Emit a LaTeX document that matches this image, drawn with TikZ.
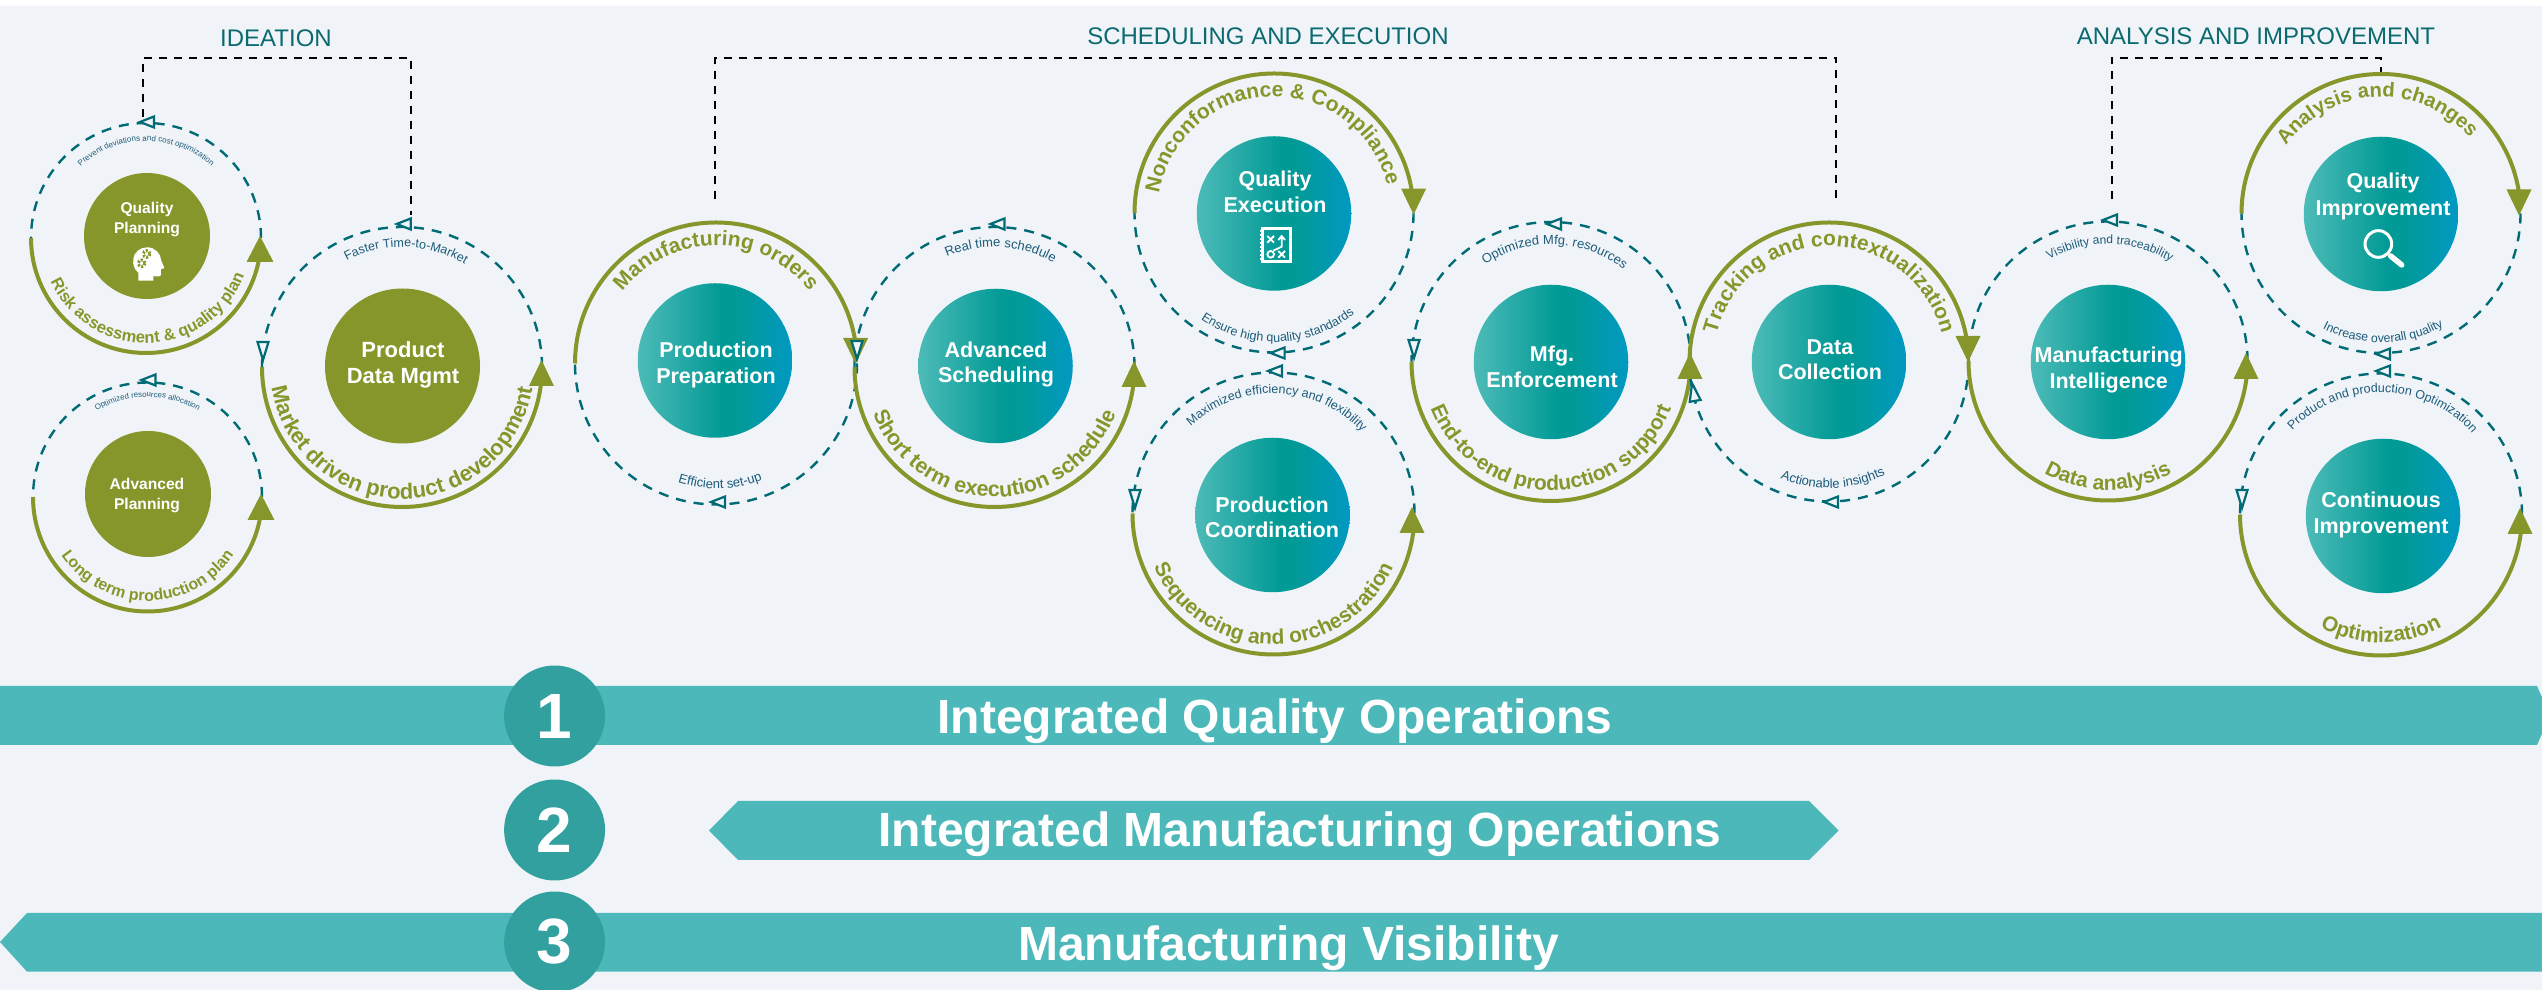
\documentclass[tikz,border=0pt]{standalone}
\usepackage{fontspec}
\setmainfont{Liberation Sans}
\usetikzlibrary{decorations.text}
\definecolor{bgC}{HTML}{F0F4F8}
\definecolor{oliveC}{HTML}{87962B}
\definecolor{dashC}{HTML}{006A75}
\definecolor{smallC}{HTML}{1C5B7A}
\definecolor{headC}{HTML}{0B6A70}
\definecolor{barC}{HTML}{4DB8BA}
\definecolor{numC}{HTML}{33A0A0}
\definecolor{gA}{HTML}{4DBBB8}
\definecolor{gB}{HTML}{029A96}
\definecolor{gC}{HTML}{0099C2}
\pgfdeclarehorizontalshading{tealgrad}{100bp}{color(0bp)=(gA); color(25bp)=(gA); color(52bp)=(gB); color(57bp)=(gB); color(75bp)=(gC); color(100bp)=(gC)}
\tikzset{
  x=1pt,y=1pt,
  solidarc/.style={draw=oliveC,line width=4pt},
  dasharc/.style={draw=dashC,line width=2.4pt,dash pattern=on 10pt off 8pt},
  conn/.style={draw=black,line width=2pt,dash pattern=on 8pt off 7pt},
  tealdisc/.style={circle,inner sep=0pt,minimum size=154.5pt,shading=tealgrad},
  olivedisc/.style={circle,inner sep=0pt,fill=oliveC},
  numdisc/.style={circle,inner sep=0pt,minimum size=101pt,fill=numC,text=white,font=\bfseries\fontsize{64}{64}\selectfont},
  bigtxt/.style={text=white,align=center,font=\bfseries\fontsize{21.5}{25.5}\selectfont},
  smalltxt/.style={text=white,align=center,font=\bfseries\fontsize{15.6}{20}\selectfont},
  headtxt/.style={text=headC,anchor=base,font=\fontsize{24}{24}\selectfont},
  bartxt/.style={text=white,anchor=base,font=\bfseries\fontsize{48}{48}\selectfont},
  bar/.style={fill=barC},
  opentri/.style={draw=dashC,fill=bgC,line width=2.2pt,line join=miter},
}
% lower half solid, upper half dashed
\newcommand\ringLow[3]{%
  \draw[solidarc] (#1,990-#2)++(180:#3) arc[start angle=180,end angle=358,radius=#3];
  \draw[dasharc] (#1,990-#2)++(0:#3) arc[start angle=0,end angle=180,radius=#3];}
% upper half solid, lower half dashed
\newcommand\ringUp[3]{%
  \draw[solidarc] (#1,990-#2)++(180:#3) arc[start angle=180,end angle=2,radius=#3];
  \draw[dasharc] (#1,990-#2)++(0:#3) arc[start angle=0,end angle=-180,radius=#3];}
% text on arcs: cx cy r midangle size text
\newcommand\smallLow[6]{%
  \path[decorate,decoration={text along path,text align=center,text color=smallC,
    text={|\fontsize{#5}{#5}\selectfont|#6}}]
    (#1,990-#2)++(#4-120:#3) arc[start angle=#4-120,end angle=#4+120,radius=#3];}
\newcommand\smallTop[6]{%
  \path[decorate,decoration={text along path,text align=center,text color=smallC,
    text={|\fontsize{#5}{#5}\selectfont|#6}}]
    (#1,990-#2)++(#4+120:#3) arc[start angle=#4+120,end angle=#4-120,radius=#3];}
\newcommand\boldLow[6]{%
  \path[decorate,decoration={text along path,text align=center,text color=oliveC,
    text={|\bfseries\fontsize{#5}{#5}\selectfont|#6}}]
    (#1,990-#2)++(#4-120:#3) arc[start angle=#4-120,end angle=#4+120,radius=#3];}
\newcommand\boldTop[6]{%
  \path[decorate,decoration={text along path,text align=center,text color=oliveC,
    text={|\bfseries\fontsize{#5}{#5}\selectfont|#6}}]
    (#1,990-#2)++(#4+120:#3) arc[start angle=#4+120,end angle=#4-120,radius=#3];}
% filled arrow: tip x y, direction, half width
\newcommand\farrow[4]{\fill[oliveC,shift={(#1,990-#2)},rotate=#3] (0,0)--(-26,#4)--(-26,-#4)--cycle;}
% open triangle: centre x y, direction, length
\newcommand\otri[4]{\draw[opentri,shift={(#1,990-#2)},rotate=#3] (#4/2,0)--(-#4/2,5.5)--(-#4/2,-5.5)--cycle;}
\begin{document}
\begin{tikzpicture}
\useasboundingbox (0,0) rectangle (2542,990);
\clip (0,0) rectangle (2542,990);
\fill[white] (0,0) rectangle (2542,990);
\fill[bgC] (0,0) rectangle (2542,983.5);

% headers
\node[headtxt] (hIdea) at (276,990-46.4) {IDEATION};
\node[headtxt] (hSched) at (1268,990-44.7) {SCHEDULING AND EXECUTION};
\node[headtxt] (hAna) at (2256,990-44.7) {ANALYSIS AND IMPROVEMENT};

% dashed brackets
\coordinate (ideaA) at (143,990-117);
\coordinate (ideaB) at (411.4,990-215);
\coordinate (ideaT) at (280,990-58);
\draw[conn] (ideaA) |- (ideaT) -| (ideaB);
\coordinate (schedA) at (715,990-199.5);
\coordinate (schedB) at (1836,990-199.5);
\coordinate (schedT) at (1270,990-58);
\draw[conn] (schedA) |- (schedT) -| (schedB);
\coordinate (anaA) at (2111.6,990-199.5);
\coordinate (anaB) at (2380.7,990-72);
\coordinate (anaT) at (2250,990-58);
\draw[conn] (anaA) |- (anaT) -| (anaB);

% rings
\ringLow{146}{238}{115}
\ringLow{147.5}{497}{114.5}
\ringLow{402}{367}{140}
\ringUp{716}{363.5}{141}
\ringLow{994.5}{367}{140}
\ringUp{1274}{213}{139.5}
\ringLow{1273.5}{513.5}{141}
\ringLow{1551}{361.5}{139.5}
\ringUp{1829}{362}{139.5}
\ringLow{2108}{361}{139.5}
\ringUp{2381}{213.5}{139.5}
\ringLow{2381}{514.5}{141}

% solid arrow heads
\farrow{260}{236}{90}{13.5}
\farrow{261}{494}{90}{13.5}
\farrow{541.5}{360}{90}{12.5}
\farrow{855.6}{364}{270}{12.5}
\farrow{1134}{361}{90}{12.5}
\farrow{1413.6}{214.6}{270}{12.5}
\farrow{1412}{507}{90}{12.5}
\farrow{1690}{353}{90}{12.5}
\farrow{1968}{362}{270}{12.5}
\farrow{2246}{353}{90}{12.5}
\farrow{2519}{215.5}{270}{12.5}
\farrow{2520}{508}{90}{12.5}

% open triangles, middle of the dashed arcs
\otri{147}{122}{180}{14}
\otri{148.5}{380}{180}{14}
\otri{403.7}{224}{180}{14}
\otri{718}{502}{180}{14}
\otri{997.4}{224}{180}{14}
\otri{1277.6}{353}{180}{14}
\otri{1275}{371}{180}{14}
\otri{1554}{224}{180}{14}
\otri{1831}{502}{180}{14}
\otri{2110}{220}{180}{14}
\otri{2383}{354}{180}{14}
\otri{2383}{371}{180}{14}
% open triangles, ends of the dashed arcs
\otri{263}{351}{270}{18}
\otri{857}{350}{270}{18}
\otri{1135}{499}{270}{18}
\otri{1414}{349}{270}{18}
\otri{1693.6}{392}{100}{18}
\otri{2242}{499}{270}{18}

% discs
\node[olivedisc,minimum size=126pt] (qp) at (147,990-236) {};
\node[olivedisc,minimum size=126pt] (ap) at (148,990-494) {};
\node[olivedisc,minimum size=155pt] (pdm) at (402.5,990-366) {};
\node[tealdisc] (pp) at (715,990-360.5) {};
\node[tealdisc] (as) at (995.5,990-366) {};
\node[tealdisc] (qe) at (1274,990-213.5) {};
\node[tealdisc] (pc) at (1272.5,990-515) {};
\node[tealdisc] (mf) at (1551,990-362) {};
\node[tealdisc] (dc) at (1829,990-362) {};
\node[tealdisc] (mi) at (2108,990-362) {};
\node[tealdisc] (qi) at (2381,990-214) {};
\node[tealdisc] (ci) at (2383,990-516) {};

% disc labels
\node[smalltxt] (qpT) at (147,990-220) {Quality\\Planning};
\node[smalltxt] (apT) at (147,990-496) {Advanced\\Planning};
\node[bigtxt,font=\bfseries\fontsize{22}{26}\selectfont] (pdmT) at (403,990-365) {Product\\Data Mgmt};
\node[bigtxt] (ppT) at (716,990-365) {Production\\Preparation};
\node[bigtxt] (asT) at (996,990-364.5) {Advanced\\Scheduling};
\node[bigtxt] (qeT) at (1275,990-192) {Quality\\Execution};
\node[bigtxt] (pcT) at (1272,990-517.5) {Production\\Coordination};
\node[bigtxt] (mfT) at (1552,990-367) {Mfg.\\Enforcement};
\node[bigtxt] (dcT) at (1830,990-359.5) {Data\\Collection};
\node[bigtxt] (miT) at (2108.7,990-370) {Manufacturing\\Intelligence};
\node[bigtxt,font=\bfseries\fontsize{21.5}{27}\selectfont] (qiT) at (2383,990-196) {Quality\\Improvement};
\node[bigtxt] (ciT) at (2381,990-515) {Continuous\\Improvement};

% icons
\begin{scope}[shift={(120,990-240)},x=0.3333pt,y=-0.3333pt]
  \fill[white] (55,122) -- (55,98) .. controls (42,88) and (38,72) .. (40,58)
    .. controls (42,35) and (62,22) .. (82,22) .. controls (105,22) and (122,40) .. (124,62)
    -- (133,84) -- (123,88) -- (123,104) .. controls (122,110) and (112,111) .. (100,108) -- (100,122) -- cycle;
  \draw[oliveC,line width=3pt,dash pattern=on 2pt off 1.6pt] (80,42) circle[radius=10];
  \draw[oliveC,line width=3pt,dash pattern=on 2pt off 1.6pt] (65,70) circle[radius=10];
\end{scope}
\begin{scope}[shift={(1250,990-220)},x=0.3333pt,y=-0.3333pt]
  \draw[white,line width=2.4pt] (38,25) rectangle (122,125);
  \draw[white,line width=2pt,dash pattern=on 2pt off 2pt] (32,30) -- (32,122);
  \draw[white,line width=1.8pt] (52,48)--(72,68) (52,68)--(72,48);
  \draw[white,line width=1.8pt] (85,93)--(105,113) (85,113)--(105,93);
  \draw[white,line width=1.8pt] (62,103) circle[radius=10];
  \draw[white,line width=1.8pt] (70,92) -- (95,80) -- (95,50) (85,60)--(95,48)--(105,60);
\end{scope}
\begin{scope}[shift={(2350,990-220)},x=0.3333pt,y=-0.3333pt]
  \draw[white,line width=3pt] (85,72) circle[radius=40];
  \draw[white,line width=5.5pt,line cap=round] (122,108) -- (155,135);
\end{scope}

% bold labels on the solid arcs
\boldLow{146}{238}{105}{272}{16.5}{Risk assessment {\&} quality plan}
\boldLow{147.5}{497}{104}{270}{16}{Long term production plan}
\boldLow{402}{367}{132}{270}{22}{Market driven product development}
\boldTop{716}{363.5}{118}{90}{21}{Manufacturing orders}
\boldLow{994.5}{367}{130}{270}{21.5}{Short term execution schedule}
\boldTop{1274}{213}{116.5}{92}{21}{Nonconformance {\&} Compliance}
\boldLow{1273.5}{513.5}{131}{270}{21}{Sequencing and orchestration}
\boldLow{1551}{361.5}{129}{270}{21}{End-to-end production support}
\boldTop{1829}{362}{116}{90}{21}{Tracking and contextualization}
\boldLow{2108}{361}{129}{270}{21}{Data analysis}
\boldTop{2381}{213.5}{116.5}{92.5}{20.2}{Analysis and changes}
\boldLow{2381}{514.5}{128}{270}{21}{Optimization}

% small labels on the dashed arcs
\smallTop{146}{238}{97}{90}{8}{Prevent deviations and cost optimization}
\smallTop{147.5}{497}{100}{90}{7.8}{Optimized resources allocation}
\smallTop{402}{367}{120}{88}{12.5}{Faster Time-to-Market}
\smallLow{716}{363.5}{125}{272}{13}{Efficient set-up}
\smallTop{994.5}{367}{120}{87}{13}{Real time schedule}
\smallLow{1274}{213}{129}{272}{12.5}{Ensure high quality standards}
\smallTop{1273.5}{513.5}{120}{88}{12.5}{Maximized efficiency and flexibility}
\smallTop{1551}{361.5}{117}{88}{13}{Optimized Mfg. resources}
\smallLow{1829}{362}{126}{272}{13}{Actionable insights}
\smallTop{2108}{361}{117}{89}{12}{Visibility and traceability}
\smallLow{2381}{213.5}{129}{271}{12.3}{Increase overall quality}
\smallTop{2381}{514.5}{122}{89}{12.5}{Product and production Optimization}

% bars
\fill[bar] (0,990-686) -- (2537,990-686) -- (2550,990-715.5) -- (2537,990-745) -- (0,990-745) -- cycle;
\fill[bar] (709,990-830.5) -- (738,990-801) -- (1809,990-801) -- (1838.6,990-830.5) -- (1809,990-860) -- (738,990-860) -- cycle;
\fill[bar] (0,990-942) -- (27,990-913) -- (2542,990-913) -- (2542,990-971.7) -- (27,990-971.7) -- cycle;
\node[bartxt] (b1) at (1275,990-734) {Integrated Quality Operations};
\node[bartxt] (b2) at (1300,990-846.7) {Integrated Manufacturing Operations};
\node[bartxt] (b3) at (1288.5,990-960.7) {Manufacturing Visibility};
\node[numdisc] (n1) at (554.6,990-716) {1};
\node[numdisc] (n2) at (554.6,990-830) {2};
\node[numdisc] (n3) at (554.6,990-942) {3};
\end{tikzpicture}
\end{document}
